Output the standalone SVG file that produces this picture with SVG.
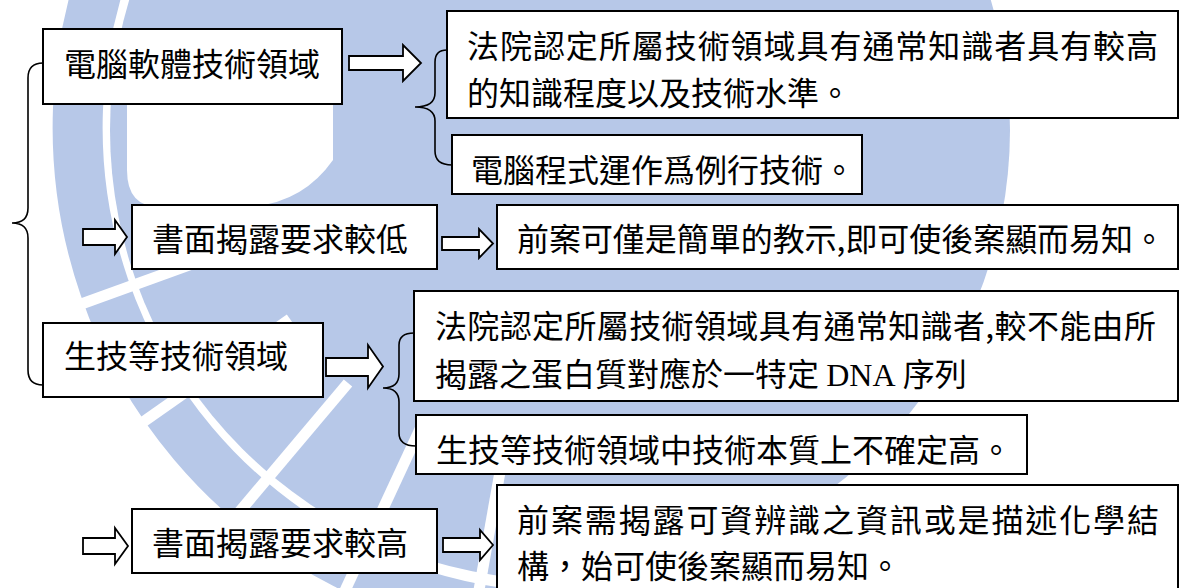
<svg xmlns="http://www.w3.org/2000/svg" width="1186" height="588" viewBox="0 0 1186 588">
<style>
.box{fill:#ffffff;stroke:#000000;stroke-width:2}
.arrow{fill:#ffffff;stroke:#000000;stroke-width:1.8;stroke-linejoin:miter}
.brace{fill:none;stroke:#000000;stroke-width:1.6}
.t{font-family:"Noto Sans CJK TC","Noto Sans CJK SC",sans-serif;font-size:32px;fill:#000000}
.latin{font-family:"Liberation Serif",serif}
.wm{fill:#b7c8e8}
.wmline{fill:none;stroke:#b7c8e8}
.gap{stroke:#ffffff;stroke-width:11;fill:none}
</style>
<rect width="1186" height="588" fill="#ffffff"/>
<g id="watermark">
<circle class="wm" cx="560" cy="130" r="450"/>
<path class="wmline" stroke-width="50" d="M 711,596 A 490 490 0 0 1 392,-330"/>
<g class="gap">
<line x1="503" y1="455" x2="468" y2="652"/>
<line x1="420" y1="429" x2="336" y2="610"/>
<line x1="348" y1="383" x2="219" y2="536"/>
<line x1="290" y1="319" x2="126" y2="434"/>
<line x1="250" y1="243" x2="62" y2="311"/>
</g>
<path fill="#ffffff" d="M127,104 L333,104 L333,160 Q300,207 240,207 L160,207 Q127,207 127,170 Z"/>
</g>
<g id="connectors">
<path class="brace" d="M43,63 Q28,63 28,78 L28,208 Q28,223 12,223 Q28,223 28,238 L28,370 Q28,385 43,385"/>
<path class="brace" d="M447,50 Q435,50 435,62 L435,93 Q435,107 415,107 Q435,107 435,121 L435,151 Q435,165 452,165"/>
<path class="brace" d="M414,333 Q399,333 399,345 L399,374 Q399,388 383,388 Q399,388 399,402 L399,433 Q399,446 416,446"/>
<polygon class="arrow" points="349,56 403,56 403,45 421,63 403,81 403,70 349,70"/>
<polygon class="arrow" points="83,229 115,229 115,220 127,237 115,254 115,245 83,245"/>
<polygon class="arrow" points="442,237 479,237 479,229 493,243.5 479,258 479,250 442,250"/>
<polygon class="arrow" points="326,358 368,358 368,345 383,366.5 368,388 368,376 326,376"/>
<polygon class="arrow" points="83,538 115,538 115,528 128,546 115,564 115,554 83,554"/>
<polygon class="arrow" points="443,538 480,538 480,530 493,545 480,560 480,552 443,552"/>
</g>
<g id="node-software">
<rect class="box" x="43" y="29" width="299" height="75"/>
<text class="t" x="64" y="76">電腦軟體技術領域</text>
</g>
<g id="node-low">
<rect class="box" x="132" y="205" width="305" height="64"/>
<text class="t" x="152" y="251">書面揭露要求較低</text>
</g>
<g id="node-bio">
<rect class="box" x="43" y="323" width="280" height="74"/>
<text class="t" x="64" y="368">生技等技術領域</text>
</g>
<g id="node-high">
<rect class="box" x="132" y="509" width="305" height="64"/>
<text class="t" x="152" y="555">書面揭露要求較高</text>
</g>
<g id="node-a">
<rect class="box" x="447" y="11" width="731" height="107"/>
<text class="t" x="467" y="58" textLength="691" lengthAdjust="spacing">法院認定所屬技術領域具有通常知識者具有較高</text>
<text class="t" x="467" y="105">的知識程度以及技術水準。</text>
</g>
<g id="node-b">
<rect class="box" x="452" y="135" width="410" height="59"/>
<text class="t" x="471" y="182">電腦程式運作爲例行技術。</text>
</g>
<g id="node-c">
<rect class="box" x="497" y="205" width="681" height="64"/>
<text class="t" x="517" y="251" textLength="648" lengthAdjust="spacing">前案可僅是簡單的教示,即可使後案顯而易知。</text>
</g>
<g id="node-d">
<rect class="box" x="414" y="291" width="764" height="110"/>
<text class="t" x="435" y="338" textLength="721" lengthAdjust="spacing">法院認定所屬技術領域具有通常知識者,較不能由所</text>
<text class="t" x="435" y="386">揭露之蛋白質對應於一特定 <tspan class="latin">DNA</tspan> 序列</text>
</g>
<g id="node-e">
<rect class="box" x="416" y="415" width="611" height="59"/>
<text class="t" x="436" y="462">生技等技術領域中技術本質上不確定高。</text>
</g>
<g id="node-f">
<rect class="box" x="497" y="485" width="681" height="110"/>
<text class="t" x="517" y="532" textLength="642" lengthAdjust="spacing">前案需揭露可資辨識之資訊或是描述化學結</text>
<text class="t" x="517" y="578">構，始可使後案顯而易知。</text>
</g>
</svg>
